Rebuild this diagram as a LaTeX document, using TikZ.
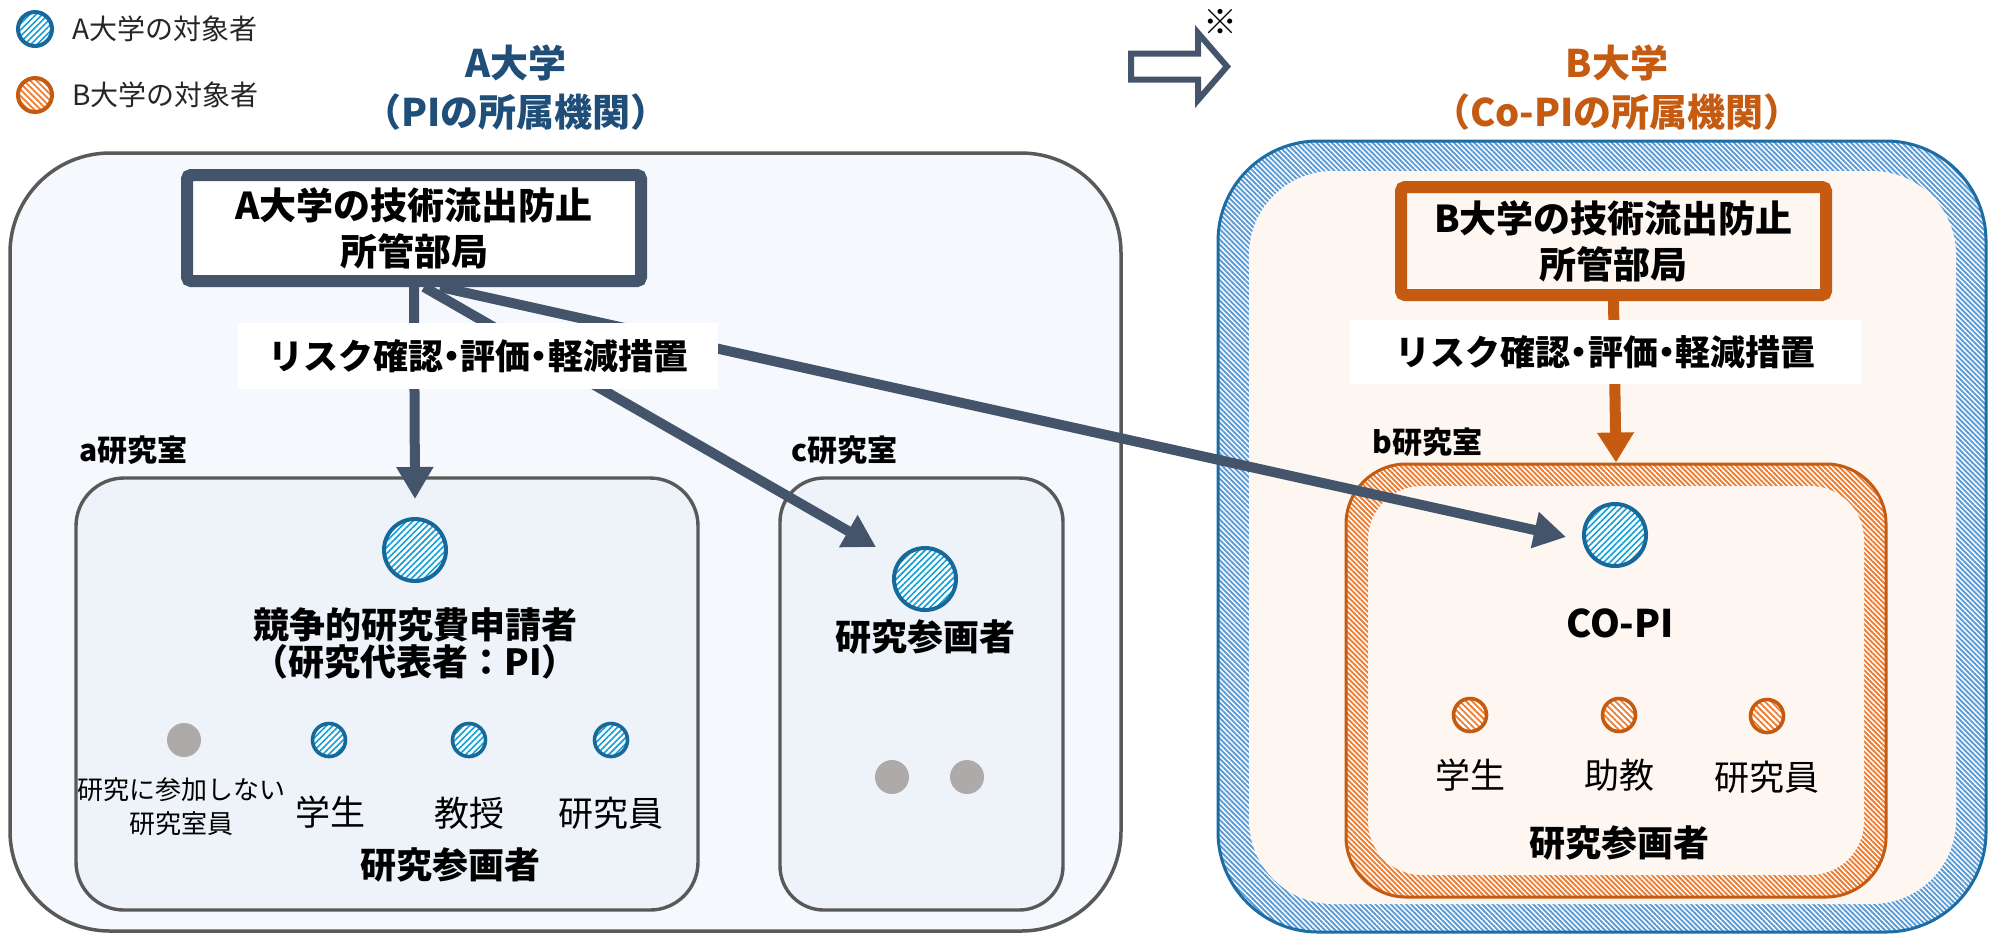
\documentclass[tikz,border=0pt]{standalone}
\usepackage{fontspec}
\setmainfont{Noto Sans CJK JP}
\usetikzlibrary{arrows.meta,patterns.meta,calc}
\definecolor{slate}{HTML}{44546A}
\definecolor{gline}{HTML}{595959}
\definecolor{afill}{HTML}{F5F8FC}
\definecolor{labfill}{HTML}{EEF3FA}
\definecolor{bfill}{HTML}{FDF6F1}
\definecolor{tblue}{HTML}{1F4E79}
\definecolor{orng}{HTML}{C55A11}
\definecolor{orhatch}{HTML}{ED7D31}
\definecolor{cblue}{HTML}{17699C}
\definecolor{chatch}{HTML}{12A0D7}
\definecolor{bandblue}{HTML}{1D6DA5}
\definecolor{bandhatch}{HTML}{5B9BD5}
\definecolor{gdot}{HTML}{AEAAAA}
\newcommand{\ndot}{\hspace{-0.25em}・\hspace{-0.25em}}
\tikzset{
  labbox/.style={draw=gline, line width=1.7pt, fill=labfill, rounded corners=24pt, inner sep=0pt},
  deptbox/.style={line width=6pt, rounded corners=2pt, align=center, inner sep=0pt,
    font=\bfseries\fontsize{18.5pt}{23pt}\selectfont},
  riskbox/.style={fill=white, inner sep=0pt, font=\bfseries\fontsize{17.5pt}{17.5pt}\selectfont},
  acirc/.style={circle, inner sep=0pt, draw=cblue, preaction={fill=white},
    pattern={Lines[angle=45,distance=2.2pt,line width=0.8pt]}, pattern color=chatch},
  bcirc/.style={circle, inner sep=0pt, draw=orng, preaction={fill=white},
    pattern={Lines[angle=-45,distance=2.2pt,line width=0.9pt]}, pattern color=orhatch},
  gcirc/.style={circle, inner sep=0pt, fill=gdot, minimum size=17pt},
  titletxt/.style={align=center, font=\bfseries\fontsize{19pt}{24.5pt}\selectfont},
  labname/.style={anchor=west, inner sep=0pt, font=\bfseries\fontsize{15pt}{15pt}\selectfont},
  roletxt/.style={inner sep=0pt, font=\fontsize{17.5pt}{17.5pt}\selectfont},
  boldtxt/.style={inner sep=0pt, align=center, font=\bfseries\fontsize{18pt}{18.5pt}\selectfont},
  legtxt/.style={anchor=west, inner sep=0pt, text=black!85, font=\fontsize{14pt}{14pt}\selectfont},
  aarrow/.style={draw=slate, line width=5pt, -{Triangle[length=16pt,width=17.5pt]}},
  barrow/.style={draw=orng, line width=5.5pt, -{Triangle[length=15pt,width=17.5pt]}}
}
\begin{document}
\begin{tikzpicture}[x=0.5pt,y=-0.5pt]
\fill[white] (0,0) rectangle (1989,934);
\useasboundingbox (0,0) rectangle (1989,934);

% ---------- A university frame
\node[draw=gline, line width=1.75pt, fill=afill, rounded corners=50pt, inner sep=0pt,
      minimum width=555.5pt, minimum height=389pt] (auniv) at (565.5,542) {};

% ---------- B university frame (hatched band)
\node[draw=bandblue, line width=1.5pt, preaction={fill=white},
      pattern={Lines[angle=-45,distance=1.8pt,line width=0.95pt]}, pattern color=bandhatch,
      rounded corners=50pt, inner sep=0pt, minimum width=384pt, minimum height=395.5pt] (buniv) at (1602,536.5) {};
\node[fill=bfill, rounded corners=42pt, inner sep=0pt,
      minimum width=353.5pt, minimum height=366.5pt] (bunivin) at (1602.5,537.5) {};

% ---------- legend
\node[acirc, line width=2pt, minimum size=17pt] (legA) at (35,29) {};
\node[legtxt] (legAt) at (72,29) {A大学の対象者};
\node[bcirc, line width=2pt, minimum size=17pt] (legB) at (35,95) {};
\node[legtxt] (legBt) at (72,95) {B大学の対象者};

% ---------- titles
\node[titletxt, text=tblue] (atitle) at (516,87.5) {A大学\\（PIの所属機関）};
\node[titletxt, text=orng] (btitle) at (1617,87.5) {B大学\\（Co-PIの所属機関）};

% ---------- top block arrow and note
\draw[slate, line width=3pt, fill=white, line join=miter]
  (1131,53.5) -- (1198,53.5) -- (1198,33) -- (1227,66.5) -- (1198,100) -- (1198,79.5) -- (1131,79.5) -- cycle;
\node[inner sep=0pt, font=\fontsize{17pt}{17pt}\selectfont] (note) at (1220,22) {※};

% ---------- labs
\node[labbox, minimum width=311pt, minimum height=216pt] (alab) at (387,694) {};
\node[labbox, rounded corners=22pt, minimum width=141.5pt, minimum height=216pt] (clab) at (921.5,694) {};
\node[draw=orng, line width=1.5pt, preaction={fill=white},
      pattern={Lines[angle=-45,distance=1.8pt,line width=0.95pt]}, pattern color=orhatch,
      rounded corners=30pt, inner sep=0pt, minimum width=270pt, minimum height=216.5pt] (blab) at (1616,680.5) {};
\node[fill=bfill, rounded corners=27pt, inner sep=0pt,
      minimum width=248pt, minimum height=194.5pt] (blabin) at (1616,680.5) {};

\node[labname] (alabt) at (79,450) {a研究室};
\node[labname] (clabt) at (791,450) {c研究室};
\node[labname] (blabt) at (1372,442) {b研究室};

% ---------- departments
\node[deptbox, draw=slate, fill=white, minimum width=227pt, minimum height=53pt] (adept) at (414,228)
  {A大学の技術流出防止\\所管部局};
\node[deptbox, draw=orng, fill=bfill, minimum width=212.5pt, minimum height=54pt] (bdept) at (1613.5,241)
  {B大学の技術流出防止\\所管部局};

% ---------- a lab contents
\node[acirc, line width=2pt, minimum size=31pt] (pi) at (415,550) {};
\node[boldtxt] (pit) at (415,643) {競争的研究費申請者\\（研究代表者：PI）};
\node[gcirc] (ag) at (184,740) {};
\node[acirc, line width=1.8pt, minimum size=16.5pt] (as1) at (329,740) {};
\node[acirc, line width=1.8pt, minimum size=16.5pt] (as2) at (469,740) {};
\node[acirc, line width=1.8pt, minimum size=16.5pt] (as3) at (611,740) {};
\node[inner sep=0pt, align=center, font=\fontsize{13pt}{17pt}\selectfont] (agt) at (181,807) {研究に参加しない\\研究室員};
\node[roletxt] (as1t) at (330,812) {学生};
\node[roletxt] (as2t) at (469,813) {教授};
\node[roletxt] (as3t) at (611,813) {研究員};
\node[boldtxt] (apart) at (450,865) {研究参画者};

% ---------- c lab contents
\node[acirc, line width=2pt, minimum size=31pt] (cp) at (925,579) {};
\node[boldtxt] (cpt) at (925,637) {研究参画者};
\node[gcirc] (cg1) at (892,777) {};
\node[gcirc] (cg2) at (967,777) {};

% ---------- b lab contents
\node[acirc, line width=2pt, minimum size=31pt] (copi) at (1615,535) {};
\node[inner sep=0pt, font=\bfseries\fontsize{19pt}{19pt}\selectfont] (copit) at (1620,623) {CO-PI};
\node[bcirc, line width=1.8pt, minimum size=16.5pt] (bs1) at (1470,715) {};
\node[bcirc, line width=1.8pt, minimum size=16.5pt] (bs2) at (1619,715) {};
\node[bcirc, line width=1.8pt, minimum size=16.5pt] (bs3) at (1767,716) {};
\node[roletxt] (bs1t) at (1470,775) {学生};
\node[roletxt] (bs2t) at (1619,775) {助教};
\node[roletxt] (bs3t) at (1767,777) {研究員};
\node[boldtxt] (bpart) at (1619,843) {研究参画者};

% ---------- connectors
\coordinate (t1) at (415,499);
\coordinate (t2) at (876,547);
\coordinate (t3) at (1566,537);
\draw[aarrow] (adept.south) -- (t1);
\draw[aarrow] ([xshift=5pt]adept.south) -- (t2);
\draw[aarrow] ([xshift=13pt]adept.south) -- (t3);
\draw[barrow] (bdept.south) -- (blab.north);

% ---------- connector labels
\node[riskbox, minimum width=240pt, minimum height=33pt] (arisk) at (478,356) {リスク確認\ndot 評価\ndot 軽減措置};
\node[riskbox, minimum width=255.5pt, minimum height=32pt] (brisk) at (1605.5,352) {リスク確認\ndot 評価\ndot 軽減措置};
\end{tikzpicture}
\end{document}
